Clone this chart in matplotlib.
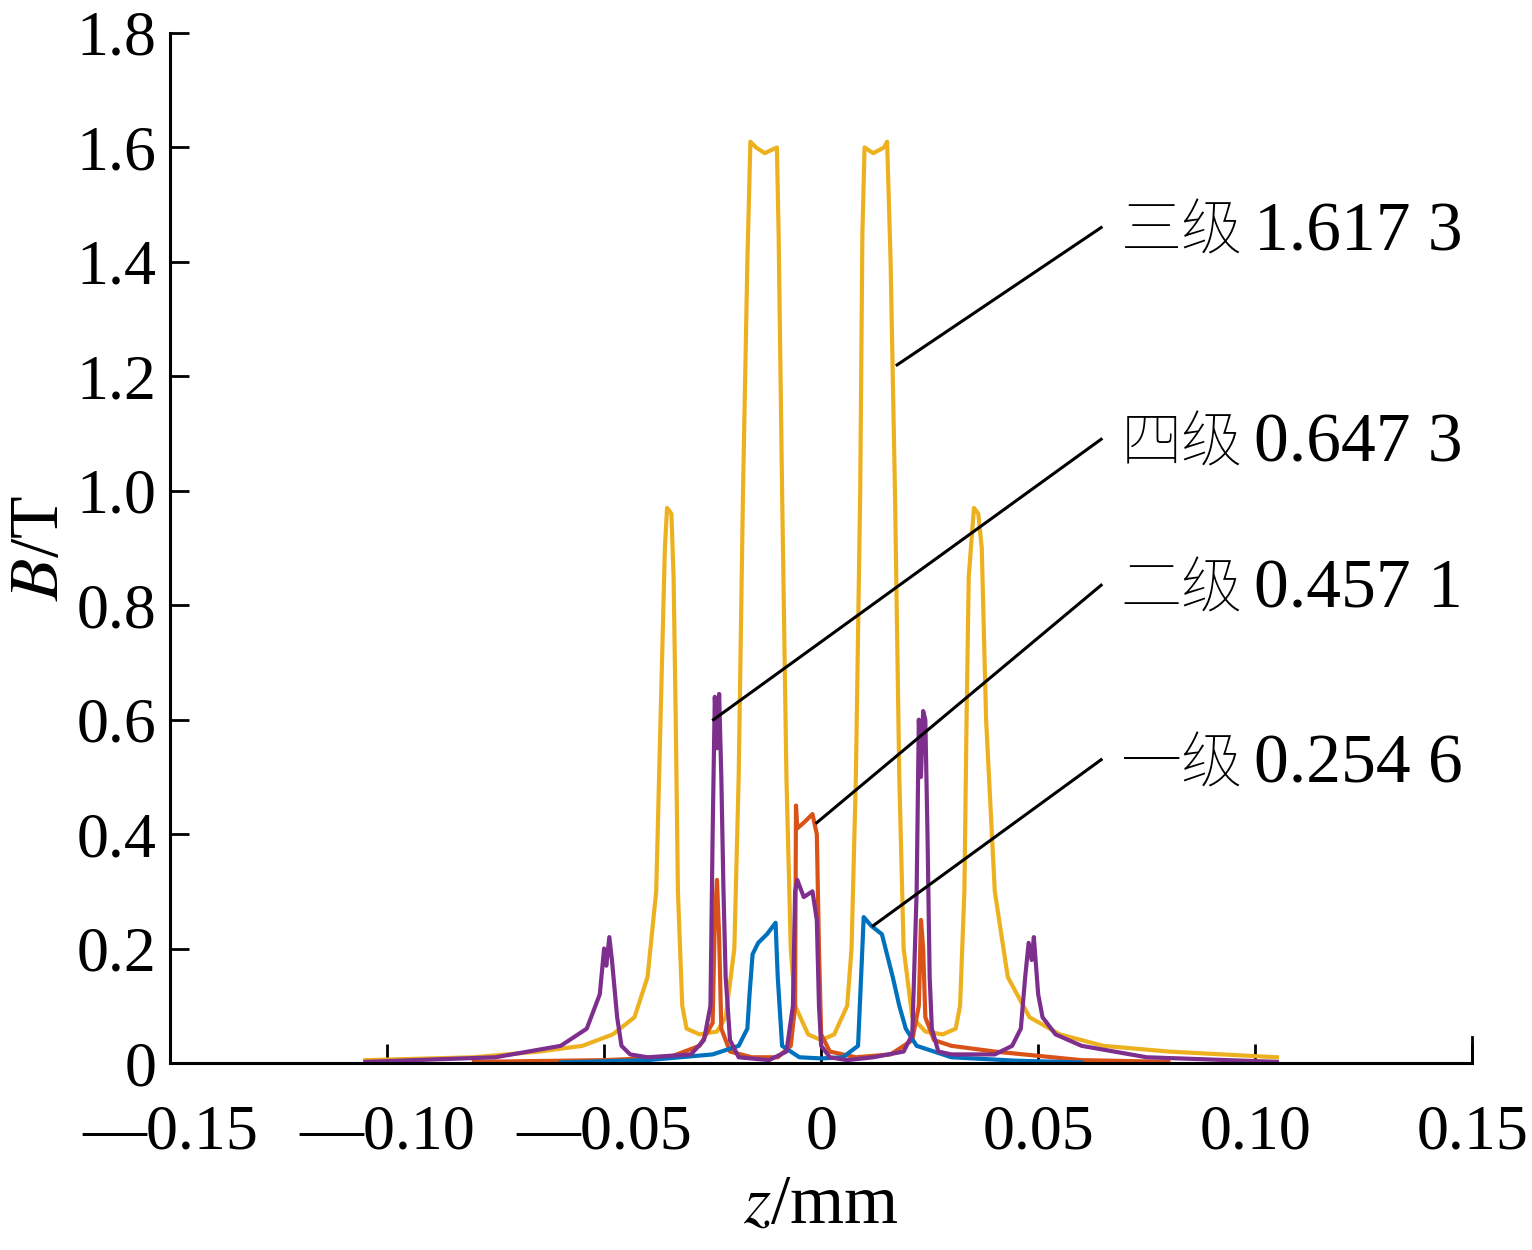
import matplotlib
matplotlib.use("Agg")
import matplotlib.pyplot as plt
from matplotlib import font_manager as fm

# 三级 (yellow)
z3 = [-0.105,-0.08,-0.065,-0.055,-0.048,-0.043,-0.040,-0.038,-0.037,-0.036,-0.0355,-0.0345,-0.034,-0.0335,-0.033,-0.032,-0.031,-0.028,-0.024,-0.022,-0.020,-0.019,-0.018,-0.017,-0.0163,-0.015,-0.013,-0.0102,-0.0098,-0.009,-0.008,-0.007,-0.006,-0.003,0.0,
      0.003,0.006,0.007,0.008,0.009,0.0095,0.010,0.012,0.0145,0.0152,0.016,0.017,0.018,0.019,0.021,0.024,0.028,0.031,0.032,0.033,0.0335,0.034,0.0352,0.0362,0.037,0.038,0.040,0.043,0.048,0.055,0.065,0.08,0.105]
b3 = [0.005,0.01,0.02,0.03,0.05,0.08,0.15,0.3,0.6,0.9,0.97,0.96,0.85,0.6,0.3,0.1,0.06,0.05,0.055,0.08,0.2,0.5,1.0,1.4,1.61,1.60,1.59,1.60,1.45,1.0,0.5,0.2,0.1,0.05,0.04,
      0.05,0.1,0.2,0.5,1.0,1.45,1.60,1.59,1.60,1.61,1.4,1.0,0.5,0.2,0.08,0.055,0.05,0.06,0.1,0.3,0.6,0.85,0.97,0.96,0.9,0.6,0.3,0.15,0.08,0.05,0.03,0.02,0.01]
# 四级 (purple)
z4 = [-0.105,-0.075,-0.06,-0.054,-0.051,-0.0500,-0.0495,-0.0488,-0.0482,-0.047,-0.046,-0.044,-0.040,-0.030,-0.027,-0.0255,-0.025,-0.0245,-0.024,-0.0235,-0.023,-0.0225,-0.022,-0.021,-0.019,-0.012,-0.008,-0.0065,-0.006,-0.0055,-0.004,-0.002,-0.001,-0.0005,0.0,0.002,0.006,0.012,0.019,0.021,0.022,0.0225,0.023,0.0235,0.024,0.0245,0.025,0.0255,0.027,0.030,0.040,0.044,0.046,0.047,0.0478,0.0485,0.049,0.050,0.051,0.054,0.06,0.075,0.105]
b4 = [0.002,0.01,0.03,0.06,0.12,0.2,0.17,0.22,0.18,0.08,0.03,0.015,0.01,0.015,0.04,0.1,0.4,0.64,0.55,0.645,0.5,0.3,0.15,0.04,0.01,0.005,0.02,0.1,0.3,0.32,0.29,0.3,0.25,0.1,0.03,0.01,0.005,0.01,0.02,0.05,0.3,0.6,0.5,0.615,0.6,0.4,0.15,0.06,0.02,0.015,0.015,0.03,0.06,0.15,0.21,0.18,0.22,0.12,0.08,0.05,0.03,0.01,0.002]
# 二级 (orange)
z2 = [-0.08,-0.05,-0.035,-0.028,-0.025,-0.0245,-0.024,-0.0235,-0.023,-0.021,-0.016,-0.010,-0.007,-0.006,-0.0058,-0.0055,-0.004,-0.002,-0.001,-0.0005,0.0,0.002,0.008,0.016,0.021,0.0225,0.023,0.0235,0.024,0.026,0.030,0.040,0.060,0.08]
b2 = [0.002,0.005,0.01,0.03,0.07,0.25,0.32,0.22,0.06,0.02,0.01,0.01,0.03,0.1,0.45,0.41,0.42,0.435,0.40,0.2,0.05,0.02,0.01,0.015,0.04,0.1,0.25,0.2,0.08,0.04,0.03,0.02,0.005,0.002]
# 一级 (blue)
z1 = [-0.06,-0.04,-0.025,-0.019,-0.017,-0.0165,-0.0158,-0.0145,-0.0125,-0.0105,-0.010,-0.009,-0.005,0.0,0.005,0.0085,0.0092,0.0098,0.0115,0.014,0.0165,0.018,0.0195,0.022,0.030,0.045,0.06]
b1 = [0.001,0.005,0.015,0.03,0.06,0.12,0.19,0.21,0.225,0.245,0.15,0.03,0.01,0.008,0.01,0.03,0.15,0.255,0.24,0.225,0.15,0.1,0.06,0.03,0.01,0.004,0.001]

xticks = [-0.15,-0.10,-0.05,0,0.05,0.10,0.15]
xlabels = ["—0.15","—0.10","—0.05","0","0.05","0.10","0.15"]
yticks = [0,0.2,0.4,0.6,0.8,1.0,1.2,1.4,1.6,1.8]
ylabels = ["0","0.2","0.4","0.6","0.8","1.0","1.2","1.4","1.6","1.8"]

level_names = ["三级","四级","二级","一级"]
level_values = ["1.617 3","0.647 3","0.457 1","0.254 6"]
anchor = [(0.0175,1.22),(-0.0248,0.60),(-0.001,0.42),(0.012,0.24)]
textpos = [(0.0645,1.46),(0.0645,1.09),(0.0645,0.835),(0.0645,0.53)]

cjk_path = None
for f in fm.fontManager.ttflist:
    if "CJK" in f.name and ("SC" in f.name or cjk_path is None):
        cjk_path = f.fname
        if "SC" in f.name:
            break
if cjk_path is None:
    import glob
    cands = glob.glob("/usr/share/fonts/**/*CJK*", recursive=True)
    cjk_path = cands[0] if cands else None
cjk = fm.FontProperties(fname=cjk_path, size=44) if cjk_path else fm.FontProperties(family="Noto Sans CJK SC", size=44)

plt.rcParams["font.family"] = "Liberation Serif"
plt.rcParams["mathtext.fontset"] = "stix"
fig = plt.figure(figsize=(15.32, 12.5), dpi=100)
ax = fig.add_axes([0.111, 0.1496, 0.850, 0.824])
lw = 3
ax.plot(z3, b3, color="#EDB120", lw=lw)
ax.plot(z2, b2, color="#D95319", lw=lw)
ax.plot(z1, b1, color="#0072BD", lw=lw)
ax.plot(z4, b4, color="#7E2F8E", lw=lw)
for nm, val, a, t in zip(level_names, level_values, anchor, textpos):
    ax.plot([a[0], t[0]], [a[1], t[1]], color="black", lw=2.2)
    ax.text(t[0]+0.0045, t[1]-0.01, nm, fontproperties=cjk, va="center", ha="left")
    ax.text(t[0]+0.0352, t[1]-0.01, val, fontsize=50, va="center", ha="left")
ax.set_xlim(-0.15, 0.15)
ax.set_ylim(0, 1.8)
ax.set_xticks(xticks); ax.set_xticklabels(xlabels)
ax.set_yticks(yticks); ax.set_yticklabels(ylabels)
ax.tick_params(direction="in", length=14, width=2, labelsize=46)
ax.tick_params(axis="x", pad=30)
ax.tick_params(axis="y", pad=10)
for s in ["top","right"]:
    ax.spines[s].set_visible(False)
for s in ["left","bottom"]:
    ax.spines[s].set_linewidth(2.2)
ax.set_xlabel(r"$z$/mm", fontsize=50, labelpad=8)
ax.set_ylabel(r"$B$/T", fontsize=50, labelpad=2)
ax.plot([0.15,0.15],[0,0.045], color="black", lw=2, clip_on=False)
fig.savefig("out.png", dpi=100)
